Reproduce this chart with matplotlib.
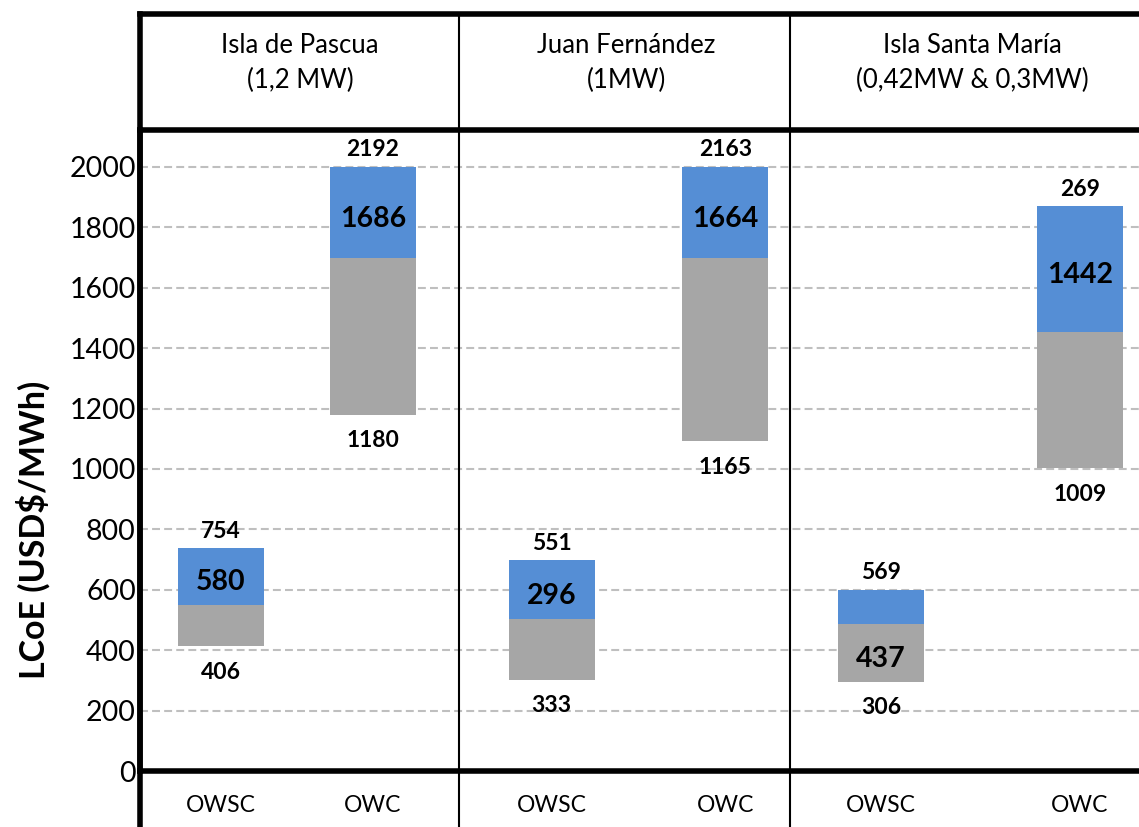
import matplotlib.pyplot as plt

plt.rcParams['font.family'] = ['Lato', 'DejaVu Sans']

sites = ["Isla de Pascua\n(1,2 MW)", "Juan Fernández\n(1MW)", "Isla Santa María\n(0,42MW & 0,3MW)"]
techs = ["OWSC", "OWC", "OWSC", "OWC", "OWSC", "OWC"]

# bar segments
gray_bottom = [413, 1180, 302, 1092, 295, 1003]
gray_top = [550, 1697, 503, 1697, 487, 1453]
blue_top = [738, 2000, 698, 2000, 600, 1869]

# numbers printed on the chart
label_top = ["754", "2192", "551", "2163", "569", "269"]
label_mid = ["580", "1686", "296", "1664", "437", "1442"]
label_bottom = ["406", "1180", "333", "1165", "306", "1009"]
mid_on = ["blue", "blue", "blue", "blue", "gray", "blue"]

yticks = list(range(0, 2001, 200))

# layout (x axis runs 0..10 across the plot)
bar_pos = [0.81, 2.33, 4.12, 5.86, 7.42, 9.41]
dividers = [3.19, 6.51]
header_x = [1.60, 4.87, 8.33]

W, H = 1139, 827
fig = plt.figure(figsize=(W / 100, H / 100), dpi=100)
ax = fig.add_axes([140 / W, (H - 771) / H, (W - 140) / W, (771 - 130) / H])
ax.set_xlim(0, 10)
ax.set_ylim(0, 2122)

gray = '#A6A6A6'
blue = '#558ED5'
heights_gray = [t - b for b, t in zip(gray_bottom, gray_top)]
heights_blue = [t - b for b, t in zip(gray_top, blue_top)]
ax.bar(bar_pos, heights_gray, bottom=gray_bottom, width=0.86, color=gray, zorder=2)
ax.bar(bar_pos, heights_blue, bottom=gray_top, width=0.86, color=blue, zorder=2)

for i, x in enumerate(bar_pos):
    ax.annotate(label_top[i], (x, blue_top[i]), xytext=(0, 17), textcoords='offset pixels',
                ha='center', va='center', fontsize=16.5, fontweight='bold')
    ax.annotate(label_bottom[i], (x, gray_bottom[i]), xytext=(0, -26), textcoords='offset pixels',
                ha='center', va='center', fontsize=16.5, fontweight='bold')
    if mid_on[i] == "blue":
        ym = (gray_top[i] + blue_top[i]) / 2
    else:
        ym = (gray_bottom[i] + gray_top[i]) / 2
    ax.annotate(label_mid[i], (x, ym), xytext=(0, -6), textcoords='offset pixels',
                ha='center', va='center', fontsize=20.5, fontweight='bold', zorder=3)

ax.set_yticks(yticks)
ax.yaxis.grid(True, linestyle=(0, (3.8, 2)), color='#BFBFBF', linewidth=1.5)
ax.set_axisbelow(True)
ax.tick_params(axis='y', length=0, pad=3, labelsize=20.5)
ax.set_xticks(bar_pos, techs)
ax.tick_params(axis='x', length=0, pad=17, labelsize=16.5)

for s in ['top', 'bottom', 'left']:
    ax.spines[s].set_linewidth(4)
ax.spines['right'].set_visible(False)

# header box and extended lines
top_y = (771 - 14) / 641
low_y = -0.12
tr = ax.get_xaxis_transform()
ax.plot([0, 1], [top_y, top_y], transform=ax.transAxes, color='black', lw=4,
        clip_on=False, solid_capstyle='projecting')
ax.plot([0, 0], [low_y, top_y], transform=ax.transAxes, color='black', lw=4,
        clip_on=False, solid_capstyle='projecting')
for d in dividers:
    ax.plot([d, d], [low_y, top_y], transform=tr, color='black', lw=1.5, clip_on=False)

for x, name in zip(header_x, sites):
    ax.text(x, 1 + (130 - 63) / 641, name, transform=tr, ha='center', va='center',
            fontsize=18.5, linespacing=1.45)

fig.text(33 / W, 1 - 530 / H, r"LCoE (USD\$/MWh)", rotation=90, ha='center', va='center',
         fontsize=24.5, fontweight='bold')

fig.savefig('out.png', dpi=100)
